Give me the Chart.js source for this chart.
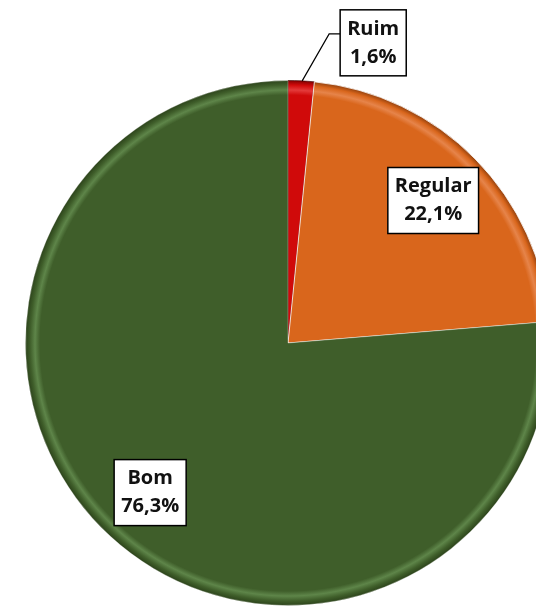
<!DOCTYPE html>
<html>
<head>
<meta charset="utf-8">
<script src="https://cdn.jsdelivr.net/npm/chart.js@4/dist/chart.umd.min.js"></script>
<style>
html,body{margin:0;padding:0;overflow:hidden;background:#fff;width:536px;height:606px;}
#wrap{position:absolute;left:0;top:0;width:576px;height:686px;}
</style>
</head>
<body>
<div id="wrap"><canvas id="c" width="576" height="686"></canvas></div>
<script>
const categories = ['Ruim', 'Regular', 'Bom'];
const values = [1.6, 22.1, 76.3];
const valueLabels = ['1,6%', '22,1%', '76,3%'];
const baseColors = ['#D00A0A', '#D9661C', '#3F5E2A'];
const lightColors = ['#E43A3A', '#E6844A', '#5E8549'];
const darkColors = ['#7A0000', '#8A3C0C', '#2A4019'];

function sliceFill(ctx) {
  const i = ctx.dataIndex;
  const chart = ctx.chart;
  const a = chart.chartArea;
  if (!a || i === undefined) return baseColors[i || 0];
  const cx = (a.left + a.right) / 2, cy = (a.top + a.bottom) / 2;
  const r = Math.min(a.right - a.left, a.bottom - a.top) / 2;
  const g = chart.ctx.createRadialGradient(cx, cy, 0, cx, cy, r);
  g.addColorStop(0, baseColors[i]);
  g.addColorStop((r - 15) / r, baseColors[i]);
  g.addColorStop((r - 10) / r, lightColors[i]);
  g.addColorStop((r - 5) / r, baseColors[i]);
  g.addColorStop(1, darkColors[i]);
  return g;
}

const labelPlugin = {
  id: 'boxLabels',
  afterDatasetsDraw(chart) {
    const ctx = chart.ctx;
    const meta = chart.getDatasetMeta(0);
    ctx.save();
    ctx.font = 'bold 20px "Open Sans", sans-serif';
    ctx.textAlign = 'center';
    ctx.textBaseline = 'middle';
    meta.data.forEach((arc, i) => {
      const mid = (arc.startAngle + arc.endAngle) / 2;
      const R = arc.outerRadius;
      let bx, by, w, h = 66;
      const t1 = categories[i], t2 = valueLabels[i];
      w = Math.max(ctx.measureText(t1).width, ctx.measureText(t2).width) + 14;
      if (i === 0) {
        const ox = arc.x + Math.cos(mid) * R, oy = arc.y + Math.sin(mid) * R;
        bx = ox + 72; by = oy - 38;
        const left = bx - w / 2;
        ctx.strokeStyle = '#000';
        ctx.lineWidth = 1.2;
        ctx.beginPath();
        ctx.moveTo(ox + 1, oy);
        ctx.lineTo(left - 11, oy - 47);
        ctx.lineTo(left, oy - 47);
        ctx.stroke();
      } else {
        const f = 0.775;
        bx = arc.x + Math.cos(mid) * R * f;
        by = arc.y + Math.sin(mid) * R * f;
      }
      ctx.fillStyle = '#fff';
      ctx.fillRect(bx - w / 2, by - h / 2, w, h);
      ctx.strokeStyle = '#000';
      ctx.lineWidth = 1.5;
      ctx.strokeRect(bx - w / 2, by - h / 2, w, h);
      ctx.fillStyle = '#111';
      ctx.fillText(t1, bx, by - 14);
      ctx.fillText(t2, bx, by + 14);
    });
    ctx.restore();
  }
};

new Chart(document.getElementById('c'), {
  type: 'pie',
  data: {
    labels: categories,
    datasets: [{
      data: values,
      backgroundColor: sliceFill,
      borderColor: ['rgba(60,0,0,0.6)', 'rgba(255,255,255,0.8)', 'rgba(255,255,255,0.3)'],
      borderWidth: 1
    }]
  },
  options: {
    responsive: false,
    animation: false,
    layout: { padding: { left: 25, right: 25, top: 80, bottom: 80 } },
    plugins: { legend: { display: false }, tooltip: { enabled: false } }
  },
  plugins: [labelPlugin]
});
</script>
</body>
</html>
